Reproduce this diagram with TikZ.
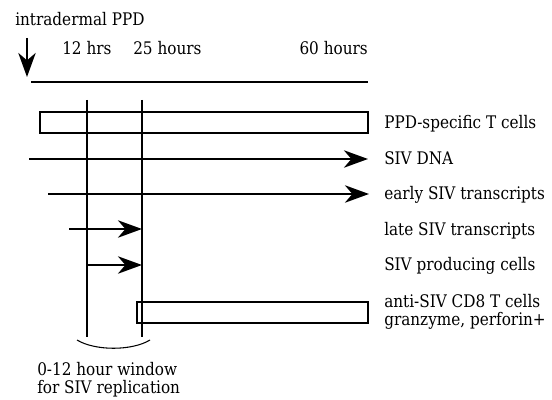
\documentclass[tikz,border=0pt]{standalone}
\usepackage{fontspec}
\newfontfamily\labfont{DejaVu Serif}[FakeStretch=0.88]
\usetikzlibrary{arrows.meta}
\begin{document}
\begin{tikzpicture}[x=0.75pt,y=-0.75pt,
  lbl/.style={font=\labfont\fontsize{13}{16}\selectfont, inner sep=0pt, anchor=base west},
  lblr/.style={lbl, anchor=base east},
  bigarrow/.style={line width=2pt, -{Stealth[length=18pt,width=13pt,inset=5.5pt]}},
  bar/.style={draw, line width=0.9pt},
  guide/.style={line width=0.8pt},
  axis/.style={line width=1.1pt}]
\useasboundingbox (0,0) rectangle (552,399);

% header
\node[lbl] (ppdinj) at (15,26) {intradermal PPD};
\node[lbl] (t12) at (62,55) {12 hrs};
\node[lbl] (t25) at (133,55) {25 hours};
\node[lblr] (t60) at (368,55) {60 hours};
\coordinate (injS) at (27,38);
\coordinate (injE) at (27,77);
\draw[bigarrow] (injS) -- (injE);
\coordinate (axS) at (31,82);
\coordinate (axE) at (368,82);
\draw[axis] (axS) -- (axE);

% window guides
\coordinate (g1t) at (87,100);
\coordinate (g1b) at (87,337);
\coordinate (g2t) at (142,100);
\coordinate (g2b) at (142,337);
\draw[guide] (g1t) -- (g1b);
\draw[guide] (g2t) -- (g2b);

% bars
\draw[bar] (40,112) rectangle (368,133);
\draw[bar] (137,302) rectangle (368,323);

% arrows
\coordinate (dnaS) at (29,159);
\coordinate (dnaE) at (368,159);
\draw[bigarrow] (dnaS) -- (dnaE);
\coordinate (earS) at (48,194);
\coordinate (earE) at (369,194);
\draw[bigarrow] (earS) -- (earE);
\coordinate (latS) at (69,229);
\coordinate (latE) at (142,229);
\draw[bigarrow] (latS) -- (latE);
\coordinate (proS) at (87,265);
\coordinate (proE) at (142,265);
\draw[bigarrow] (proS) -- (proE);

% bracket
\coordinate (brL) at (77,340);
\coordinate (brR) at (150,340);
\draw[guide] (brL) .. controls (95,351) and (132,351) .. (brR);

% right labels
\node[lbl] (lppd) at (384,128) {PPD-specific T cells};
\node[lbl] (ldna) at (384,164) {SIV DNA};
\node[lbl] (lear) at (384,199) {early SIV transcripts};
\node[lbl] (llat) at (384,235) {late SIV transcripts};
\node[lbl] (lpro) at (384,270) {SIV producing cells};
\node[lbl] (lcd8) at (384,307) {anti-SIV CD8 T cells};
\node[lbl] (lgra) at (384,325) {granzyme, perforin+};

% bottom labels
\node[lbl] (win1) at (37,375) {0-12 hour window};
\node[lbl] (win2) at (37,393) {for SIV replication};
\end{tikzpicture}
\end{document}
